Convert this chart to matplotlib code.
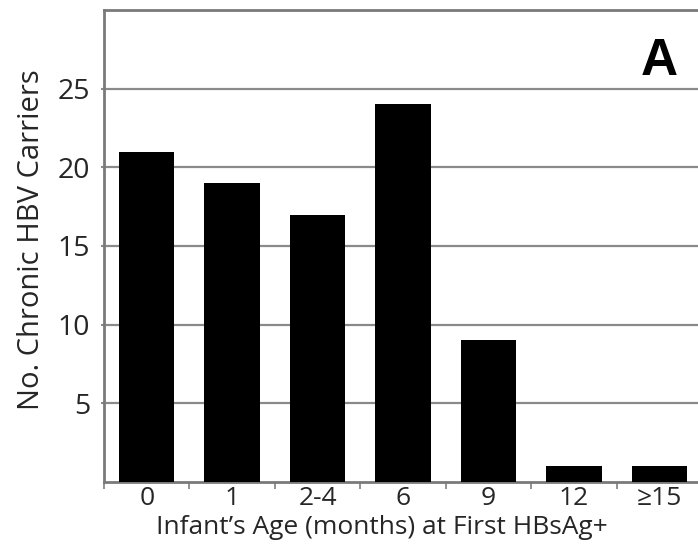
import matplotlib
matplotlib.use("Agg")
import matplotlib.pyplot as plt
import numpy as np

# Age at first HBsAg+ and number of chronic carriers
age_groups = ["0", "1", "2-4", "6", "9", "12", "\u226515"]
carriers = [21, 19, 17, 24, 9, 1, 1]
y_ticks = [5, 10, 15, 20, 25]

plt.rcParams["font.family"] = ["Open Sans", "DejaVu Sans"]

text_col = "#262626"
grid_col = "#8a8a8a"

fig = plt.figure(figsize=(6.98, 5.52), dpi=100)
# the plot area runs slightly past the right edge of the figure
ax = fig.add_axes([104 / 698, 1 - 482 / 552, 598 / 698, 472 / 552])

x = np.arange(len(age_groups))
ax.bar(x, carriers, width=0.65, color="black", zorder=3)

ax.set_xlim(-0.5, len(age_groups) - 0.5)
ax.set_ylim(0, 30)

for v in y_ticks:
    ax.axhline(v, color=grid_col, lw=1.6, zorder=1)

ax.set_yticks(y_ticks)
ax.set_yticklabels([str(v) for v in y_ticks], fontsize=20.5, color=text_col)
ax.tick_params(axis="y", length=2, width=1.5, color=grid_col, pad=8)

ax.set_xticks(x)
ax.set_xticklabels(age_groups, fontsize=19, color=text_col)
ax.tick_params(axis="x", which="major", length=0, pad=3)
ax.set_xticks(np.arange(-0.5, len(age_groups), 1.0), minor=True)
ax.tick_params(axis="x", which="minor", length=5, width=1.3, color=grid_col, direction="out")

for side in ["left", "bottom", "top"]:
    ax.spines[side].set_color("#7a7a7a")
    ax.spines[side].set_linewidth(2)
ax.spines["right"].set_visible(False)

ylab = ax.set_ylabel("No. Chronic HBV Carriers", fontsize=21, color=text_col)
ax.yaxis.set_label_coords(-0.122, 0.513)
ylab.set_va("center")

xlab = ax.set_xlabel("Infant\u2019s Age (months) at First HBsAg+", fontsize=19, color=text_col)
ax.xaxis.set_label_coords(0.465, -0.097)
xlab.set_va("center")

fig.text(641 / 698, 1 - 75 / 552, "A", fontsize=37, fontweight="bold",
         family="Liberation Sans", ha="left", va="baseline", color="black")

fig.savefig("out.png", dpi=100)
